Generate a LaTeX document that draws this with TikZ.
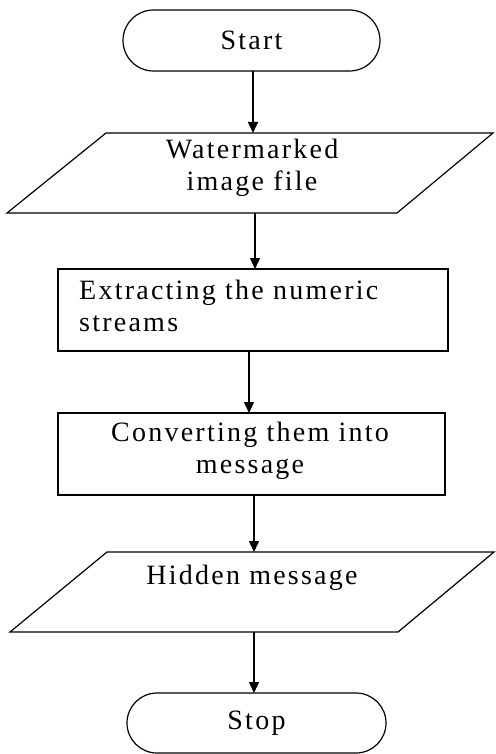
\documentclass[tikz,border=0pt]{standalone}
\usepackage{fontspec}
\setmainfont{Liberation Serif}[LetterSpace=8]
\usetikzlibrary{shapes.misc,arrows.meta}
\begin{document}
\begin{tikzpicture}[x=1pt,y=-1pt,
  shapeline/.style={draw=black, line width=1.2pt},
  term/.style={shapeline, rounded rectangle, minimum width=257pt, minimum height=61pt, inner sep=0pt, font=\fontsize{28}{32}\selectfont},
  proc/.style={shapeline, rectangle, inner sep=0pt},
  txt/.style={inner sep=0pt, font=\fontsize{28}{32}\selectfont},
  arr/.style={draw=black, line width=1.4pt, -{Triangle[length=11pt,width=10pt]}}]
\useasboundingbox (0,0) rectangle (495,754);

% Start
\node[term] (start) at (251.5,40.5) {Start};
\coordinate (startout) at (253,71);

% Input parallelogram
\draw[shapeline] (106,133) -- (493,133) -- (397,213) -- (7,213) -- cycle;
\coordinate (inAtop) at (253,133);
\coordinate (inAbot) at (255,213);
\node[txt, align=center] (inAtxt) at (252,168) {Watermarked\\image file};

% Process 1
\node[proc, minimum width=390pt, minimum height=82pt] (procA) at (253,310) {};
\node[txt, align=left, anchor=west] (procAtxt) at (79,306) {Extracting the numeric\\streams};
\coordinate (procAtop) at (255,269);
\coordinate (procAbot) at (249,351);

% Process 2
\node[proc, minimum width=387pt, minimum height=82pt] (procB) at (251.5,454) {};
\node[txt, align=center] (procBtxt) at (250,451) {Converting them into\\message};
\coordinate (procBtop) at (249,413);
\coordinate (procBbot) at (254,495);

% Output parallelogram
\draw[shapeline] (107,552) -- (494,552) -- (398,632) -- (10,632) -- cycle;
\coordinate (outtop) at (254,552);
\coordinate (outbot) at (254,632);
\node[txt] (outtxt) at (252,578) {Hidden message};

% Stop
\node[term, minimum width=259pt, minimum height=60pt] (stop) at (256.5,723) {Stop};
\coordinate (stopin) at (254,693);

% Connectors
\draw[arr] (startout) -- (inAtop);
\draw[arr] (inAbot) -- (procAtop);
\draw[arr] (procAbot) -- (procBtop);
\draw[arr] (procBbot) -- (outtop);
\draw[arr] (outbot) -- (stopin);
\end{tikzpicture}
\end{document}
